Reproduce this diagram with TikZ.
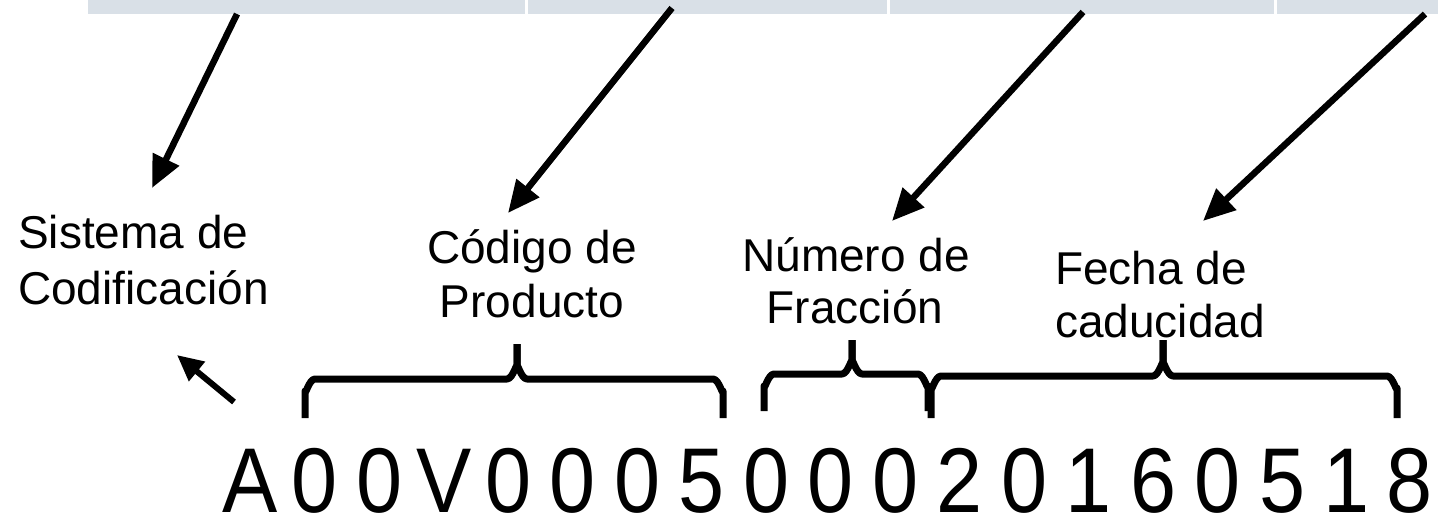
\documentclass[tikz,border=0pt]{standalone}
\usepackage{fontspec}
\setmainfont{Liberation Sans}
\newfontfamily\narrowfont[FakeStretch=0.9]{Liberation Sans}
\usetikzlibrary{arrows.meta}
\definecolor{barfill}{HTML}{D9E0E7}
\newcommand{\cc}[1]{\makebox[64.5pt]{#1}}
\tikzset{
  bar/.style={fill=barfill, draw=none},
  lbl/.style={inner sep=0pt, font=\fontsize{46}{55}\selectfont},
  pointer/.style={line width=6.5pt, -{Triangle[length=32pt,width=28pt]}},
  smallpointer/.style={line width=6pt, -{Triangle[length=26pt,width=24pt]}},
  bracestyle/.style={line width=7pt, line join=round}
}
\newcommand{\mybrace}[6]{%
  \draw[bracestyle] (#1,#5) -- (#1,#4+12) to[out=-90,in=180] (#1+10,#4)
    -- (#3-10,#4) to[out=0,in=90] (#3,#4-12) -- (#3,#6);
  \draw[bracestyle] (#3,#6) -- (#3,#4-12) to[out=90,in=180] (#3+10,#4)
    -- (#2-10,#4) to[out=0,in=-90] (#2,#4+12) -- (#2,#5);
}
\begin{document}
\begin{tikzpicture}[x=1pt,y=-1pt]
\useasboundingbox (0,0) rectangle (1438,524);
% top bars
\fill[bar] (88,0) rectangle (525,14);
\fill[bar] (528,0) rectangle (887,14);
\fill[bar] (890,0) rectangle (1274,14);
\fill[bar] (1277,0) rectangle (1438,14);
% labels
\node[lbl, anchor=base west] (sis1) at (18,248) {Sistema de};
\node[lbl, anchor=base west] (sis2) at (18,304) {Codificación};
\node[lbl, anchor=base] (cod1) at (532,263) {Código de};
\node[lbl, anchor=base] (cod2) at (532,317) {Producto};
\node[lbl, anchor=base] (num1) at (856,271) {Número de};
\node[lbl, anchor=base] (num2) at (855,323) {Fracción};
\node[lbl, anchor=base west] (fec1) at (1055,284) {Fecha de};
\node[lbl, anchor=base west] (fec2) at (1055,337) {caducidad};
% code
\node[inner sep=0pt, anchor=base west, font=\narrowfont\fontsize{92}{100}\selectfont] (code) at (218,512)
  {\cc{A}\cc{0}\cc{0}\cc{V}\cc{0}\cc{0}\cc{0}\cc{5}\cc{0}\cc{0}\cc{0}\cc{2}\cc{0}\cc{1}\cc{6}\cc{0}\cc{5}\cc{1}\makebox[54pt][r]{8}};
% arrow coordinates
\coordinate (s1) at (237,14);  \coordinate (e1) at (152,188);
\coordinate (s2) at (672,8);   \coordinate (e2) at (508,213);
\coordinate (s3) at (1083,12); \coordinate (e3) at (892,221);
\coordinate (s4) at (1425,14); \coordinate (e4) at (1203,221);
\coordinate (s5) at (234,402); \coordinate (e5) at (177,355);
\draw[pointer] (s1) -- (e1);
\draw[pointer] (s2) -- (e2);
\draw[pointer] (s3) -- (e3);
\draw[pointer] (s4) -- (e4);
\draw[smallpointer] (s5) -- (e5);
% braces
\mybrace{305}{723}{517}{379}{418}{344}
\mybrace{764}{928}{852}{374}{411}{340}
\mybrace{931}{1397}{1163}{376}{418}{340}
\end{tikzpicture}
\end{document}
